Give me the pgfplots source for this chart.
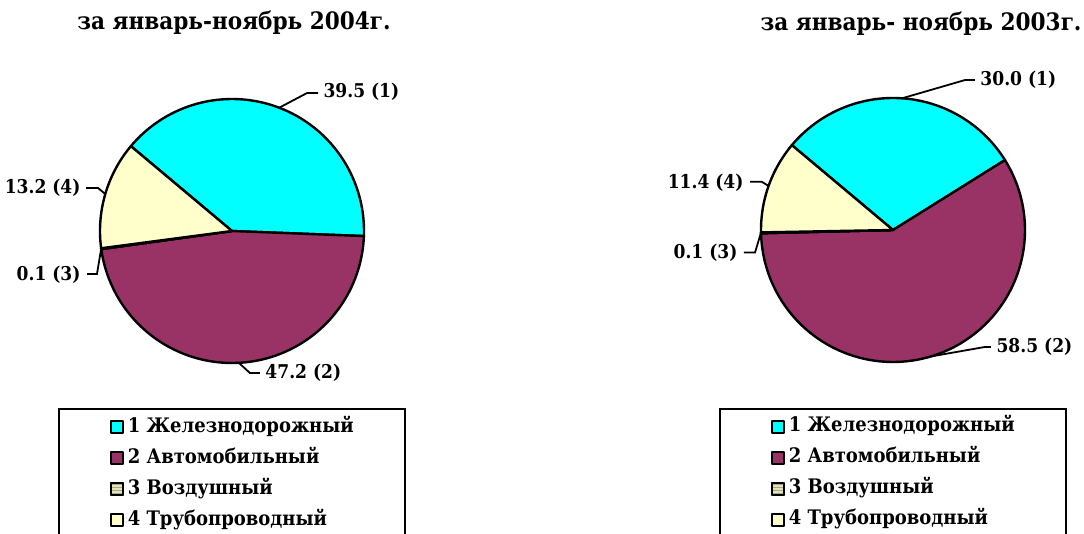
\documentclass[border=0pt]{standalone}
\usepackage{fontspec}
\setmainfont{DejaVu Serif Condensed}
\usepackage{pgfplots}
\usetikzlibrary{patterns}
\pgfplotsset{compat=1.18}
\definecolor{c1}{HTML}{00FFFF}
\definecolor{c2}{HTML}{993366}
\definecolor{c3}{HTML}{E4E4BC}
\definecolor{c3line}{HTML}{A8A880}
\definecolor{c4}{HTML}{FFFFCC}

\pgfplotsset{
  pieaxis/.style={
    scale only axis, width=264pt, height=264pt,
    xmin=-1, xmax=1, ymin=-1, ymax=1,
    hide axis, clip=false, anchor=origin,
    legend cell align=left,
    legend image code/.code={\draw[##1, line width=1.6pt] (0pt,-6pt) rectangle (12pt,6pt);},
    legend style={anchor=north, draw=black, line width=2pt,
      inner xsep=51.5pt, inner ysep=9pt,
      font=\fontsize{20}{23}\selectfont\bfseries, row sep=13pt, column sep=4pt,
      nodes={inner sep=0pt, text height=14pt, text depth=4pt}},
  },
  slice/.style={draw=black, line width=2.4pt, line join=round},
  leader/.style={black, line width=1.8pt, no markers, forget plot},
}
\newcommand{\labfont}{\fontsize{19}{22}\selectfont\bfseries}
% #1 start angle, #2 value (%), #3 colour / style
\newcommand{\pieslice}[3]{%
  \pgfmathsetmacro\sa{#1}%
  \pgfmathsetmacro\ea{#1-3.6*#2}%
  \edef\doslice{\noexpand\addplot[slice, #3, domain=\ea:\sa, samples=90] ({cos(x)},{sin(x)}) -- (0,0) -- cycle;}%
  \doslice
  \xdef\nextstart{\ea}%
}

\begin{document}
\begin{tikzpicture}
\path[use as bounding box, clip] (0,0) rectangle (1084pt,533pt);

\node[anchor=base, font=\fontsize{24}{28}\selectfont\bfseries] at (234pt,503pt) {за январь-ноябрь 2004г.};
\node[anchor=base, font=\fontsize{24}{28}\selectfont\bfseries] at (921pt,502pt) {за январь- ноябрь 2003г.};

% ---- 2004 ----
\begin{axis}[pieaxis, at={(232pt,302pt)}, legend style={at={(0.5,-0.1705)}}]
\pieslice{140}{39.5}{fill=c1}\addlegendentry{1 Железнодорожный}
\pieslice{\nextstart}{47.2}{fill=c2}\addlegendentry{2 Автомобильный}
\pieslice{\nextstart}{0.1}{fill=c3, postaction={pattern=horizontal lines, pattern color=c3line}}\addlegendentry{3 Воздушный}
\pieslice{\nextstart}{13.2}{fill=c4}\addlegendentry{4 Трубопроводный}
\addplot[leader] coordinates {(0.358,0.934) (0.568,1.045) (0.652,1.045)};
\addplot[leader] coordinates {(0.052,-0.999) (0.136,-1.076) (0.212,-1.076)};
\addplot[leader] coordinates {(-0.960,0.280) (-1.015,0.326) (-1.106,0.326)};
\addplot[leader] coordinates {(-0.991,-0.134) (-1.023,-0.326) (-1.098,-0.326)};
\node[anchor=west, font=\labfont] at (axis cs:0.667,1.053) {39.5 (1)};
\node[anchor=west, font=\labfont] at (axis cs:0.227,-1.076) {47.2 (2)};
\node[anchor=east, font=\labfont] at (axis cs:-1.121,0.326) {13.2 (4)};
\node[anchor=east, font=\labfont] at (axis cs:-1.121,-0.33) {0.1 (3)};
\end{axis}

% ---- 2003 ----
\begin{axis}[pieaxis, at={(893pt,303pt)}, legend style={at={(0.5,-0.1742)}}]
\pieslice{140}{30.0}{fill=c1}\addlegendentry{1 Железнодорожный}
\pieslice{\nextstart}{58.5}{fill=c2}\addlegendentry{2 Автомобильный}
\pieslice{\nextstart}{0.1}{fill=c3, postaction={pattern=horizontal lines, pattern color=c3line}}\addlegendentry{3 Воздушный}
\pieslice{\nextstart}{11.4}{fill=c4}\addlegendentry{4 Трубопроводный}
\addplot[leader] coordinates {(0.070,0.998) (0.545,1.136) (0.621,1.136)};
\addplot[leader] coordinates {(0.287,-0.958) (0.697,-0.886) (0.742,-0.886)};
\addplot[leader] coordinates {(-0.943,0.334) (-0.995,0.366) (-1.083,0.366)};
\addplot[leader] coordinates {(-1.0,-0.02) (-1.045,-0.170) (-1.129,-0.170)};
\node[anchor=west, font=\labfont] at (axis cs:0.636,1.136) {30.0 (1)};
\node[anchor=west, font=\labfont] at (axis cs:0.758,-0.886) {58.5 (2)};
\node[anchor=east, font=\labfont] at (axis cs:-1.106,0.358) {11.4 (4)};
\node[anchor=east, font=\labfont] at (axis cs:-1.152,-0.174) {0.1 (3)};
\end{axis}
\end{tikzpicture}
\end{document}
